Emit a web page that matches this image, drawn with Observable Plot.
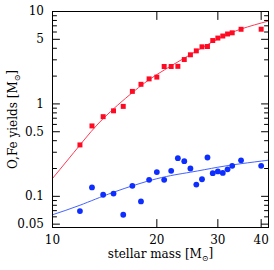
<!DOCTYPE html>
<html><head><meta charset="utf-8">
<script src="https://cdn.jsdelivr.net/npm/d3@7"></script>
<script src="https://cdn.jsdelivr.net/npm/@observablehq/plot@0.6"></script>
<style>body{margin:0;background:#fff} svg{display:block}</style>
</head><body><div id="chart"></div>
<script>
// stellar masses of the models [Msun]
const masses = [12,13,14,15,16,17,18,19,20,21,22,23,24,25,26,27,28,29,30,31,32,33,35,40];
// oxygen yields (red squares)
const oxygenYield = [0.36,0.578,0.728,0.842,0.94,1.366,1.63,1.866,1.95,2.54,2.54,2.55,3.02,3.40,3.75,4.15,4.18,4.85,5.16,5.43,5.71,5.88,6.42,6.43];
// iron yields (blue circles)
const ironYield = [0.0693,0.125,0.104,0.107,0.0632,0.130,0.088,0.151,0.183,0.151,0.189,0.259,0.240,0.200,0.134,0.153,0.263,0.178,0.186,0.179,0.196,0.214,0.245,0.214];
// fitted curves
const oxygenFitMass = [10,12,14,17,20,25,30,35,42];
const oxygenFit = [0.156,0.359,0.693,1.326,2.077,3.42,5.04,6.46,7.89];
const ironFitMass = [10,12,15,20,25,30,35,42];
const ironFit = [0.0632,0.0801,0.1107,0.1551,0.1824,0.2066,0.2255,0.2461];
// ticks
const xTicks = [10,20,30,40];
const yMajor = [0.05,0.1,0.5,1,5,10];
const yMinor = [0.06,0.07,0.08,0.09,0.2,0.3,0.4,0.6,0.7,0.8,0.9,2,3,4,6,7,8,9];
const xLabel = "stellar mass [M⊙]";
const yLabel = "O,Fe yields [M⊙]";

const oxy = masses.map((m,i)=>({m, v: oxygenYield[i]}));
const iron = masses.map((m,i)=>({m, v: ironYield[i]}));
const oxyFit = oxygenFitMass.map((m,i)=>({m, v: oxygenFit[i]}));
const feFit = ironFitMass.map((m,i)=>({m, v: ironFit[i]}));

const red = "#ff0a22", blue = "#0d2eff";
const tickShape = {draw(context, l) { context.moveTo(0, 0); context.lineTo(0, -l); }};
const yTicks = (vals, side, len) => Plot.vector(vals, {
  y: d => d, frameAnchor: side, length: len, rotate: side === "left" ? 90 : -90,
  anchor: "start", shape: tickShape, stroke: "#000", strokeWidth: 1
});
const xTickMarks = (vals, side, len) => Plot.vector(vals, {
  x: d => d, frameAnchor: side, length: len, rotate: side === "bottom" ? 0 : 180,
  anchor: "start", shape: tickShape, stroke: "#000", strokeWidth: 1
});

const chart = Plot.plot({
  width: 274, height: 270,
  marginLeft: 52, marginTop: 11, marginRight: 6, marginBottom: 43,
  style: {fontFamily: "DejaVu Serif", fontSize: "12px", color: "#000", background: "#fff"},
  x: {type: "log", domain: [10, 42], axis: null},
  y: {type: "log", domain: [0.046, 10], axis: null},
  marks: [
    Plot.line(oxyFit, {x: "m", y: "v", stroke: "#ff3a55", strokeWidth: 1, curve: "natural"}),
    Plot.line(feFit, {x: "m", y: "v", stroke: "#4563ff", strokeWidth: 1, curve: "natural"}),
    Plot.dot(oxy, {x: "m", y: "v", symbol: "square", r: 2.8, fill: red}),
    Plot.dot(iron, {x: "m", y: "v", r: 2.9, fill: blue}),
    yTicks(yMajor, "left", 7),
    yTicks(yMinor, "left", 4),
    yTicks(yMajor, "right", 7),
    yTicks(yMinor, "right", 4),
    xTickMarks(xTicks, "bottom", 8),
    xTickMarks(xTicks, "top", 8),
    Plot.frame({stroke: "#000", strokeWidth: 1}),
    Plot.text(yMajor, {y: d => d, frameAnchor: "left", dx: -8.5, textAnchor: "end", lineAnchor: "middle", text: d => String(d), fontSize: 12}),
    Plot.text(xTicks, {x: d => d, frameAnchor: "bottom", dy: 13, textAnchor: "middle", lineAnchor: "middle", text: d => String(d), fontSize: 12}),
    Plot.text([xLabel], {frameAnchor: "bottom", dy: 27, textAnchor: "middle", text: d => d, fontSize: 12, lineAnchor: "middle"}),
    Plot.text([yLabel], {frameAnchor: "left", dx: -39, rotate: -90, textAnchor: "middle", text: d => d, fontSize: 12, lineAnchor: "middle"})
  ]
});

// subscript the solar symbol
d3.select(chart).selectAll("text").each(function() {
  const t = this.textContent;
  if (t.includes("⊙")) {
    const [a, b] = t.split("⊙");
    const sel = d3.select(this);
    sel.text(null);
    sel.append("tspan").text(a);
    sel.append("tspan").attr("dy", "0.3em").attr("font-size", "8px").text("⊙");
    sel.append("tspan").attr("dy", "-0.3em").text(b);
  }
});
document.getElementById("chart").appendChild(chart);
</script>
</body></html>
